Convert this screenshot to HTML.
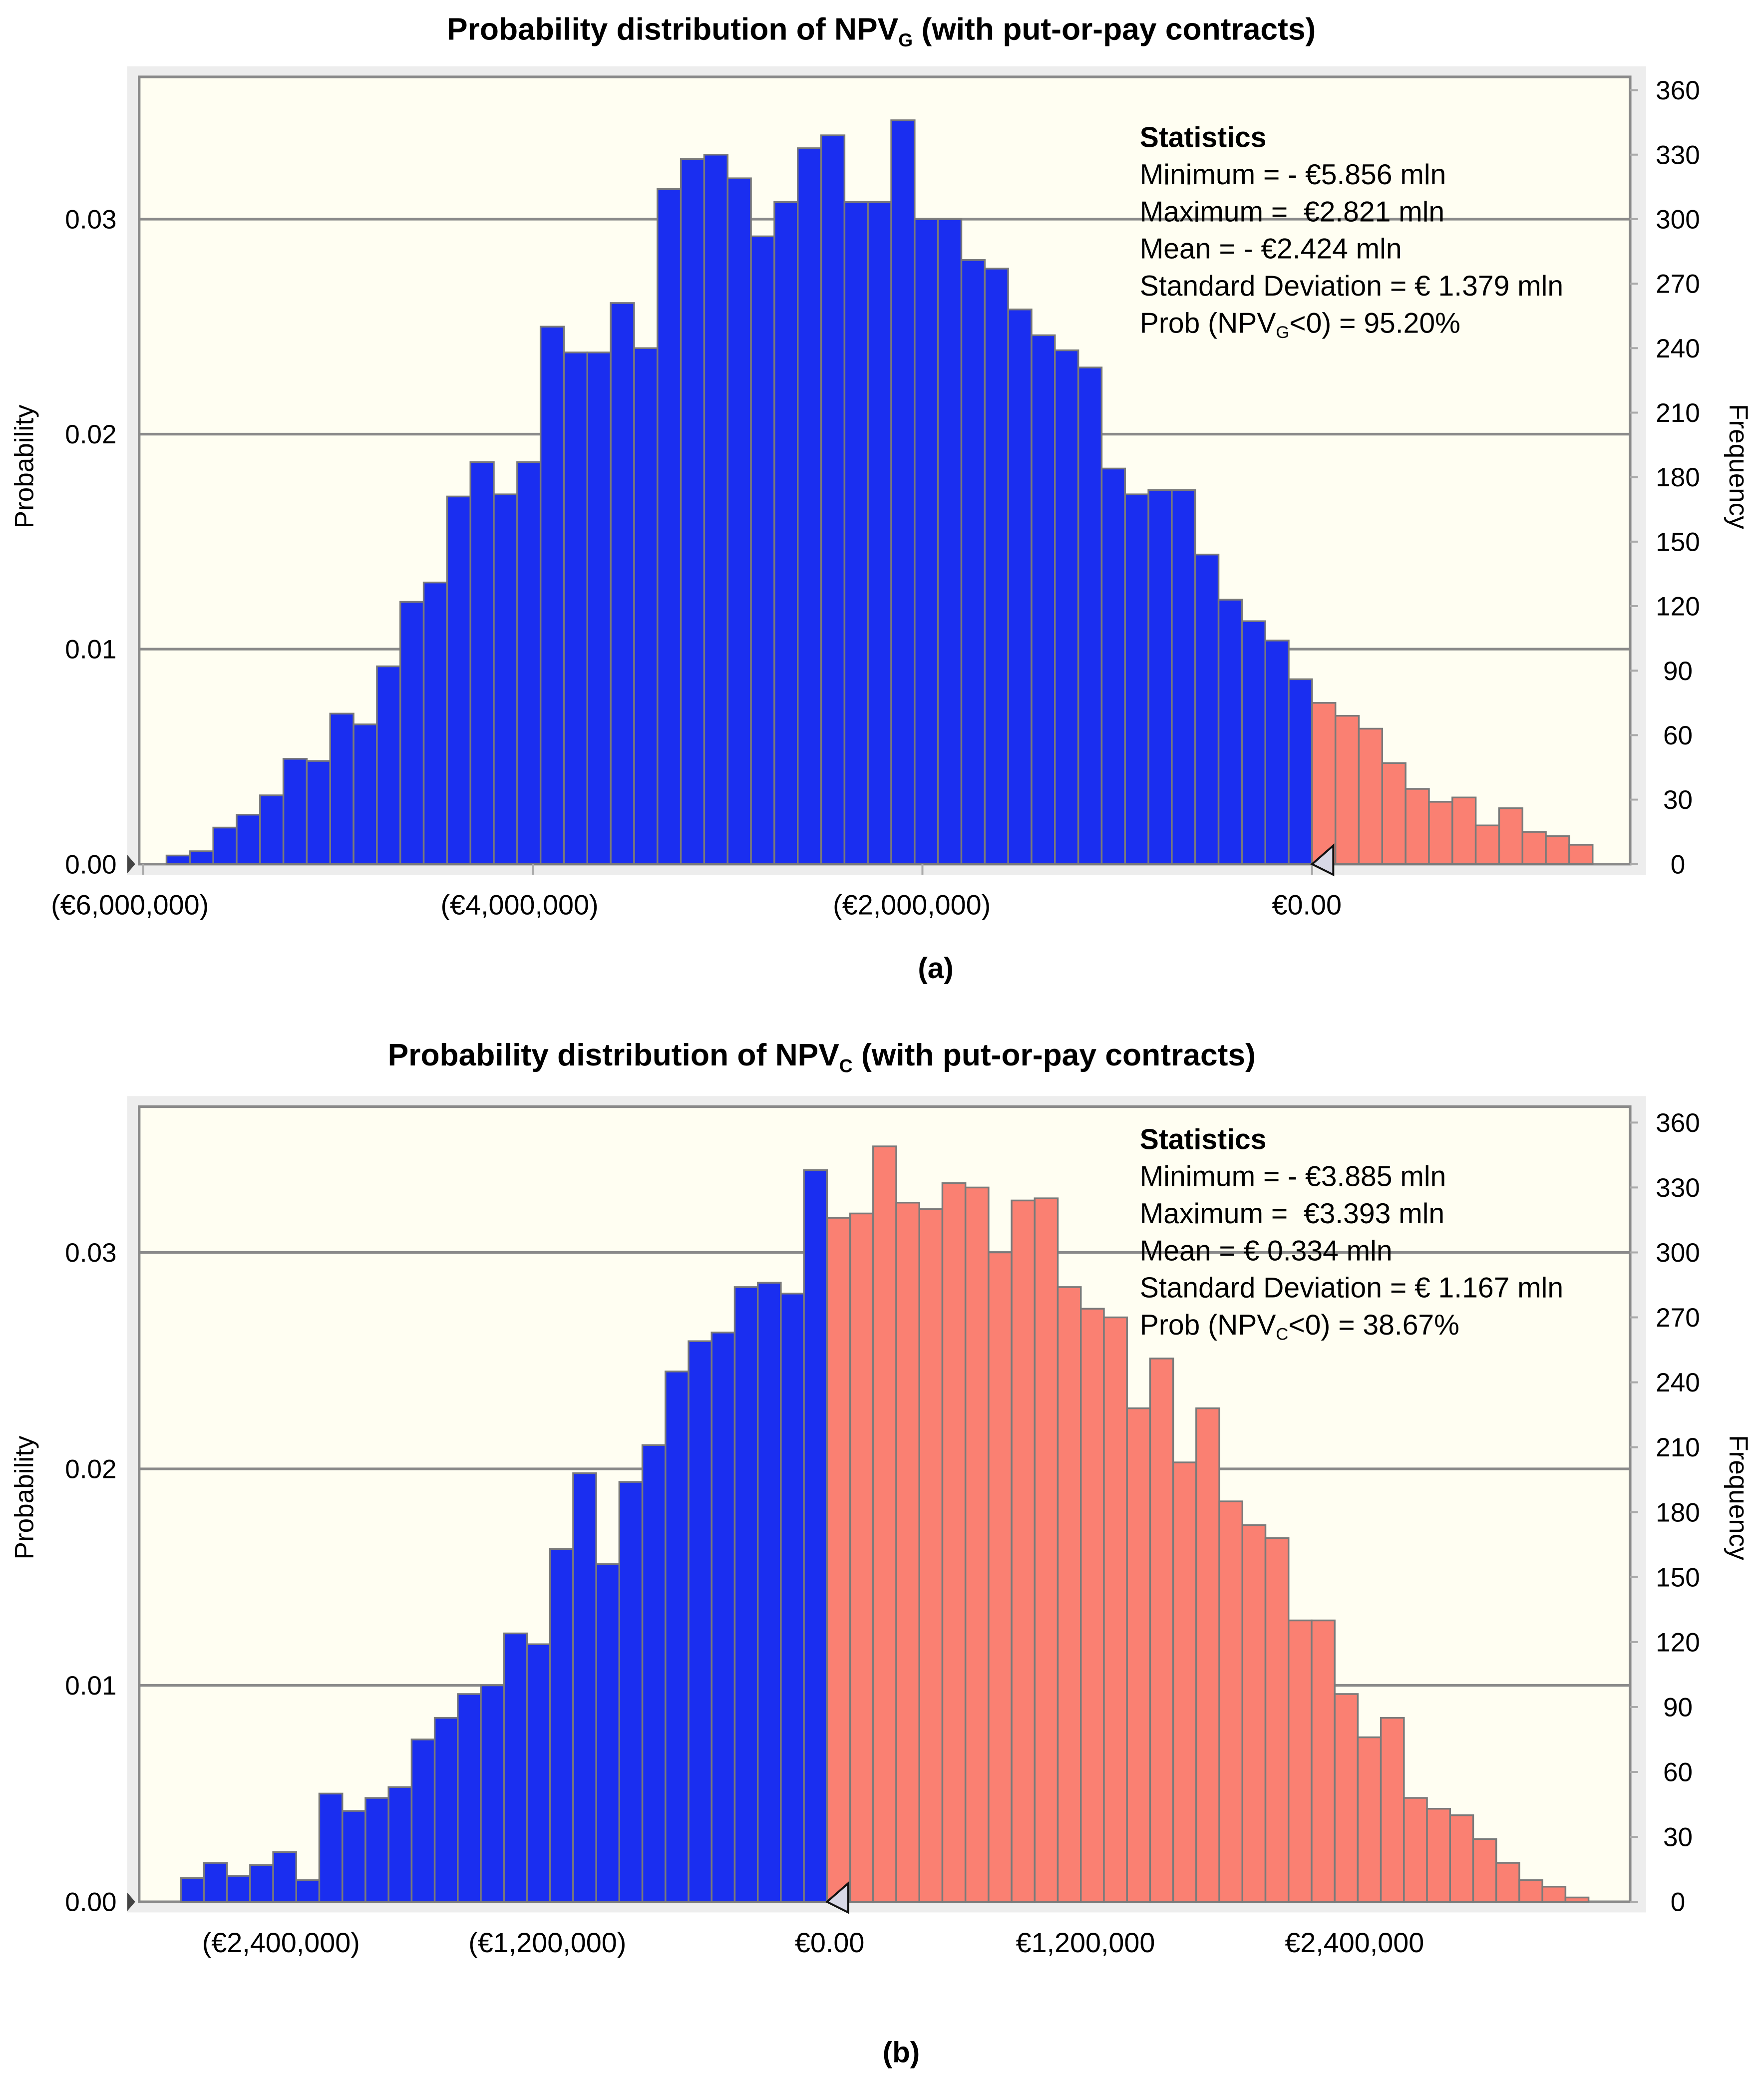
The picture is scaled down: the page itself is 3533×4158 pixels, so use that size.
<!DOCTYPE html>
<html><head><meta charset="utf-8"><style>
html,body{margin:0;padding:0;background:#fff}
svg{display:block}
text{font-family:"Liberation Sans",sans-serif;fill:#000}
</style></head><body>
<svg id="fig" width="3533" height="4158" viewBox="0 0 1331 1566.4" xmlns="http://www.w3.org/2000/svg"></svg>
<script>
// ---- Chart (a) data: NPV_G frequencies per bin ----
const aBinStart = -5880000;
const aBinWidth = 120000;
const aFreq = [4,6,17,23,32,49,48,70,65,92,122,131,171,187,172,187,250,238,238,261,240,314,328,330,319,292,308,333,339,308,308,346,300,300,281,277,258,246,239,231,184,172,174,174,144,123,113,104,86,75,69,63,47,35,29,31,18,26,15,13,9];
const aXTicks = [-6000000,-4000000,-2000000,0];
const aXTickLabels = ["(€6,000,000)","(€4,000,000)","(€2,000,000)","€0.00"];
const aStats = ["Minimum = - €5.856 mln","Maximum =\u00a0 €2.821 mln","Mean = - €2.424 mln","Standard Deviation = € 1.379 mln"];
// ---- Chart (b) data: NPV_C frequencies per bin ----
const bBinStart = -2940000;
const bBinWidth = 105000;
const bFreq = [11,18,12,17,23,10,50,42,48,53,75,85,96,100,124,119,163,198,156,194,211,245,259,263,284,286,281,338,316,318,349,323,320,332,330,300,324,325,284,274,270,228,251,203,228,185,174,168,130,130,96,76,85,48,43,40,29,18,10,7,2];
const bXTicks = [-2400000,-1200000,0,1200000,2400000];
const bXTickLabels = ["(€2,400,000)","(€1,200,000)","€0.00","€1,200,000","€2,400,000"];
const bStats = ["Minimum = - €3.885 mln","Maximum =\u00a0 €3.393 mln","Mean = € 0.334 mln","Standard Deviation = € 1.167 mln"];
// shared
const probTicks = [0,0.01,0.02,0.03];
const probTickLabels = ["0.00","0.01","0.02","0.03"];
const freqTicks = [0,30,60,90,120,150,180,210,240,270,300,330,360];
const totalN = 10000;

const NS="http://www.w3.org/2000/svg";
const svg=document.getElementById('fig');
function mk(tag,attrs,parent){const e=document.createElementNS(NS,tag);for(const k in attrs)e.setAttribute(k,attrs[k]);(parent||svg).appendChild(e);return e;}

function drawChart(cfg){
  const g=mk('g',{});
  
  
  const L=105,R=1230,T=cfg.top,B=cfg.bottom;
  const xs=v=>cfg.x0+v*cfg.pxPerUnit;
  const fTop=cfg.f360;
  const yf=f=>B-(f/360)*(B-fTop);
  const yp=p=>yf(p*totalN);
  const fr=mk('rect',{x:96,y:T-8,width:1146,height:B-T+16,fill:'#ededed'},g);
  
  const pl=mk('rect',{x:L,y:T,width:R-L,height:B-T,fill:'#fffef2',stroke:'#8a8a8a','stroke-width':2},g);
  
  probTicks.forEach((p,i)=>{
    const y=yp(p);
    if(i>0){const gl=mk('line',{x1:L,x2:R,y1:y,y2:y,stroke:'#8a8a8a','stroke-width':2},g);
      }
    const t=mk('text',{x:88,y:y+7,'text-anchor':'end','font-size':20},g);
    t.textContent=probTickLabels[i];
    
  });
  freqTicks.forEach(f=>{
    const y=yf(f);
    mk('line',{x1:R,x2:R+6,y1:y,y2:y,stroke:'#aaa','stroke-width':1.5},g);
    const t=mk('text',{x:1266,y:y+7,'text-anchor':'middle','font-size':20},g);
    t.textContent=f;
    
  });
  cfg.freq.forEach((f,i)=>{
    const v0=cfg.start+i*cfg.width, v1=v0+cfg.width;
    const x0=xs(v0),x1=xs(v1);
    const r=mk('rect',{x:x0,y:yf(f),width:x1-x0,height:B-yf(f),fill:v0<0?'#1a2ef0':'#fa8072',stroke:'#7a7a7a','stroke-width':1.3},g);
    
    
  });
  cfg.ticks.forEach((v,i)=>{
    const x=xs(v);
    if(cfg.tickMarks) mk('line',{x1:x,x2:x,y1:B,y2:B+8,stroke:'#aaa','stroke-width':1.5},g);
    const t=mk('text',{x:x+cfg.labelShift[i],y:B+38,'text-anchor':'middle','font-size':21},g);
    t.textContent=cfg.tickLabels[i];
    
  });
  const m1=mk('path',{d:`M96 ${B-7} L102 ${B} L96 ${B+7} Z`,fill:'#444'},g);
  
  const zx=xs(0);
  const m2=mk('path',{d:`M${zx} ${B} L${zx+16} ${B-14} L${zx+16} ${B+8} Z`,fill:'#d8d8e6',stroke:'#111','stroke-width':1.5},g);
  
  const pt=mk('text',{x:0,y:0,'text-anchor':'middle','font-size':20,transform:`translate(25 ${cfg.axisTitleY}) rotate(-90)`},g);
  pt.textContent='Probability';
  const ft=mk('text',{x:0,y:0,'text-anchor':'middle','font-size':20,transform:`translate(1305 ${cfg.axisTitleY}) rotate(90)`},g);
  ft.textContent='Frequency';
  const tt=mk('text',{x:cfg.titleX,y:cfg.titleY,'text-anchor':'middle','font-size':23.5,'font-weight':'bold'},g);
  tt.innerHTML=cfg.titleHTML;
  
  const cap=mk('text',{x:cfg.capX,y:cfg.capY,'text-anchor':'middle','font-size':22,'font-weight':'bold'},g);
  cap.textContent=cfg.caption;
  const sh=mk('text',{x:860,y:cfg.statsY,'font-size':21.5,'font-weight':'bold'},g);
  sh.textContent='Statistics';
  cfg.stats.forEach((s,i)=>{
    const t=mk('text',{x:860,y:cfg.statsY+28*(i+1),'font-size':21.5},g);
    t.textContent=s;
  });
  const pr=mk('text',{x:860,y:cfg.statsY+28*5,'font-size':21.5},g);
  pr.innerHTML=cfg.probHTML;
}

drawChart({name:'chart-npv-g',top:58,bottom:652,f360:68,x0:990,pxPerUnit:294/2000000,
  start:aBinStart,width:aBinWidth,freq:aFreq,ticks:aXTicks,tickLabels:aXTickLabels,tickMarks:true,labelShift:[-10,-10,-8,-4],
  axisTitleY:352,titleX:665,titleY:30,caption:'(a)',capX:706,capY:738,statsY:111,stats:aStats,
  titleHTML:'Probability distribution of NPV<tspan font-size="14" dy="5">G</tspan><tspan dy="-5"> (with put-or-pay contracts)</tspan>',
  probHTML:'Prob (NPV<tspan font-size="13" dy="4">G</tspan><tspan dy="-4">&lt;0) = 95.20%</tspan>'});
drawChart({name:'chart-npv-c',top:835,bottom:1435,f360:847,x0:624,pxPerUnit:199/1200000,
  start:bBinStart,width:bBinWidth,freq:bFreq,ticks:bXTicks,tickLabels:bXTickLabels,tickMarks:false,labelShift:[-14,-12,2,-4,0],
  axisTitleY:1130,titleX:620,titleY:804,caption:'(b)',capX:680,capY:1556,statsY:867,stats:bStats,
  titleHTML:'Probability distribution of NPV<tspan font-size="14" dy="5">C</tspan><tspan dy="-5"> (with put-or-pay contracts)</tspan>',
  probHTML:'Prob (NPV<tspan font-size="13" dy="4">C</tspan><tspan dy="-4">&lt;0) = 38.67%</tspan>'});
</script>
</body></html>
